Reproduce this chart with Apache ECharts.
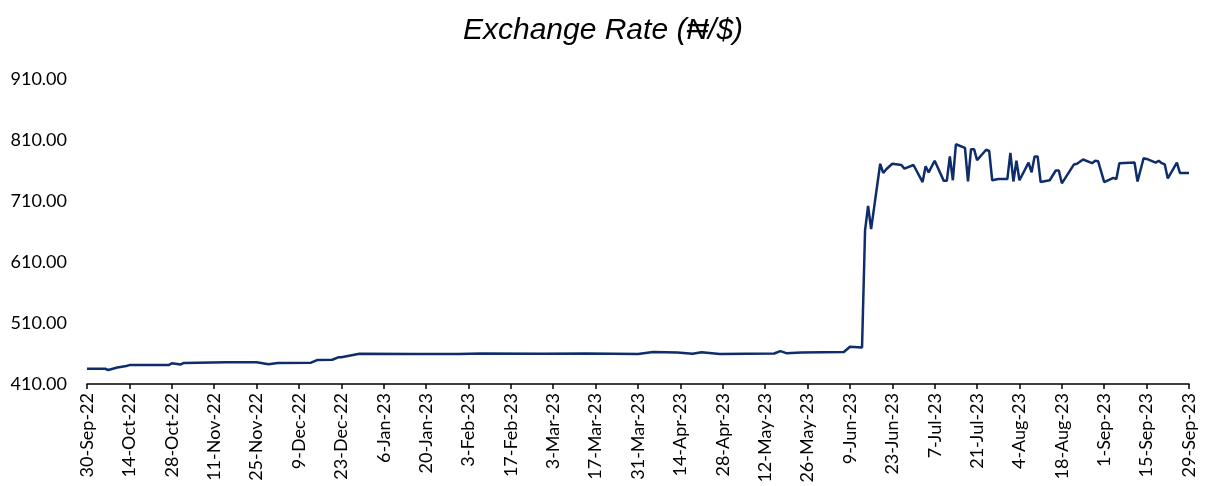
<!DOCTYPE html>
<html>
<head>
<meta charset="utf-8">
<script src="https://cdn.jsdelivr.net/npm/echarts@6/dist/echarts.min.js"></script>
<style>
html,body{margin:0;padding:0;background:#fff;}
#chart{width:1206px;height:486px;}
</style>
</head>
<body>
<div id="chart"></div>
<script>
// ---- Data ----
const titleText = 'Exchange Rate (\u20A6/$)';
const startDate = '2022-09-30';
const endDate = '2023-09-29';
const tickStepDays = 14;
const yTicks = [410, 510, 610, 710, 810, 910];

const dates = [
  '2022-09-30','2022-10-06','2022-10-07','2022-10-10','2022-10-13','2022-10-14','2022-10-27','2022-10-28',
  '2022-10-31','2022-11-01','2022-11-15','2022-11-25','2022-11-29','2022-12-02','2022-12-13','2022-12-15',
  '2022-12-20','2022-12-22','2022-12-23','2022-12-29','2023-01-16','2023-01-31','2023-02-07','2023-02-27',
  '2023-03-14','2023-03-31','2023-04-05','2023-04-13','2023-04-18','2023-04-21','2023-04-27','2023-05-15',
  '2023-05-17','2023-05-19','2023-05-24','2023-06-07','2023-06-09','2023-06-13',
  '2023-06-14','2023-06-15','2023-06-16','2023-06-19','2023-06-20','2023-06-21','2023-06-23','2023-06-26',
  '2023-06-27','2023-06-30','2023-07-03','2023-07-04','2023-07-05','2023-07-07','2023-07-10','2023-07-11',
  '2023-07-12','2023-07-13','2023-07-14','2023-07-17','2023-07-18','2023-07-19','2023-07-20','2023-07-21',
  '2023-07-24','2023-07-25','2023-07-26','2023-07-28','2023-07-31','2023-08-01','2023-08-02','2023-08-03',
  '2023-08-04','2023-08-07','2023-08-08','2023-08-09','2023-08-10','2023-08-11','2023-08-14','2023-08-16',
  '2023-08-17','2023-08-18','2023-08-22','2023-08-23','2023-08-25','2023-08-28','2023-08-29','2023-08-30',
  '2023-09-01','2023-09-04','2023-09-05','2023-09-06','2023-09-11','2023-09-12','2023-09-14','2023-09-15',
  '2023-09-18','2023-09-19','2023-09-20','2023-09-21','2023-09-22','2023-09-25','2023-09-26','2023-09-29'
];
const rates = [
  435.0, 435.0, 433.0, 437.0, 439.5, 441.0, 441.0, 444.0,
  442.0, 444.5, 445.5, 445.5, 442.3, 444.4, 445.0, 449.3,
  449.8, 453.7, 454.0, 459.7, 459.0, 459.2, 460.0, 459.5,
  460.0, 459.0, 462.5, 461.5, 459.5, 462.0, 459.2, 460.0,
  464.0, 460.5, 461.5, 462.5, 471.0, 470.0,
  662, 702, 664, 771, 756, 762, 771, 769,
  763, 769, 741, 767, 757, 776, 743, 743,
  783, 744, 803, 797, 742, 795, 795, 777,
  794, 792, 744, 746, 746, 789, 742, 776,
  744, 773, 757, 783, 783, 741, 744, 760,
  760, 739, 770, 771, 778, 772, 776, 775,
  741, 748, 746, 772, 773, 742, 780, 779,
  773, 776, 772, 770, 747, 773, 756, 756
];

// ---- Helpers ----
const DAY = 86400000;
const MONTHS = ['Jan','Feb','Mar','Apr','May','Jun','Jul','Aug','Sep','Oct','Nov','Dec'];
function toUTC(s){ const p = s.split('-').map(Number); return Date.UTC(p[0], p[1]-1, p[2]); }
const t0 = toUTC(startDate);
const dayIndex = s => Math.round((toUTC(s) - t0) / DAY);
function fmtDay(v){
  const d = new Date(t0 + v * DAY);
  return d.getUTCDate() + '-' + MONTHS[d.getUTCMonth()] + '-' + String(d.getUTCFullYear()).slice(2);
}
const seriesData = dates.map((d, i) => [dayIndex(d), rates[i]]);

const chart = echarts.init(document.getElementById('chart'), null, {renderer: 'canvas'});
chart.setOption({
  animation: false,
  backgroundColor: '#ffffff',
  title: {
    text: titleText,
    left: 'center',
    top: 11,
    textStyle: {
      fontFamily: 'Liberation Sans, Arial, sans-serif',
      fontStyle: 'italic',
      fontWeight: 'normal',
      fontSize: 30,
      color: '#000000'
    }
  },
  grid: { left: 87, right: 17, top: 79, bottom: 102, containLabel: false },
  xAxis: {
    type: 'value',
    min: 0,
    max: dayIndex(endDate),
    interval: tickStepDays,
    splitLine: { show: false },
    axisLine: { show: true, lineStyle: { color: '#000000', width: 1.5 } },
    axisTick: { show: true, inside: false, length: 5, lineStyle: { color: '#000000', width: 1.5 } },
    axisLabel: {
      rotate: 90,
      margin: 9,
      fontFamily: 'Lato, "Open Sans", sans-serif',
      fontSize: 18,
      color: '#000000',
      showMinLabel: true,
      showMaxLabel: true,
      formatter: v => fmtDay(v)
    }
  },
  yAxis: {
    type: 'value',
    min: yTicks[0],
    max: yTicks[yTicks.length - 1],
    interval: yTicks[1] - yTicks[0],
    splitLine: { show: false },
    axisLine: { show: false },
    axisTick: { show: false },
    axisLabel: {
      margin: 20,
      fontFamily: 'Lato, "Open Sans", sans-serif',
      fontSize: 18,
      color: '#000000',
      formatter: v => v.toFixed(2)
    }
  },
  series: [{
    type: 'line',
    data: seriesData,
    showSymbol: false,
    symbol: 'none',
    lineStyle: { color: '#0F2C6B', width: 2.5 },
    z: 3
  }]
});
</script>
</body>
</html>
